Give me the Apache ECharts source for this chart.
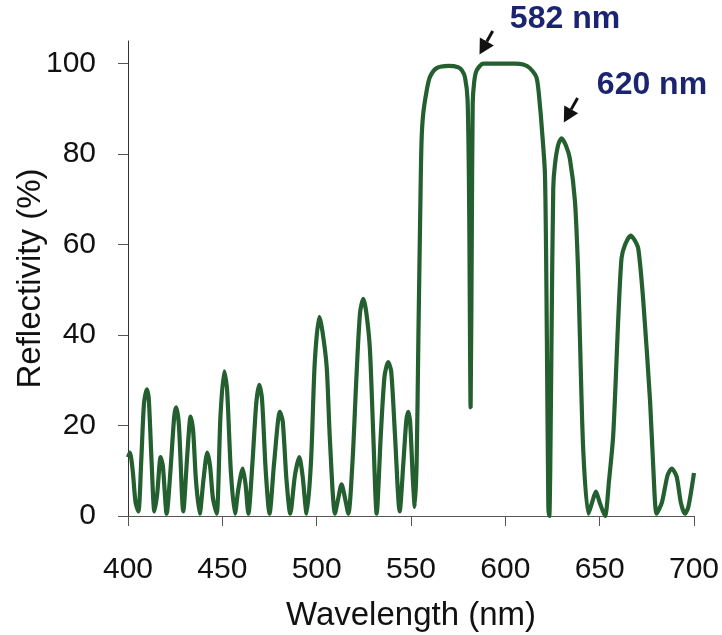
<!DOCTYPE html>
<html>
<head>
<meta charset="utf-8">
<script src="https://cdn.jsdelivr.net/npm/echarts@6/dist/echarts.min.js"></script>
<style>html,body{margin:0;padding:0;background:#fff}#c{width:722px;height:635px}</style>
</head>
<body>
<div id="c"></div>
<script>
// Wavelength (nm)
const wavelength = [400,401,402.5,404,405.5,407,408.5,410,411,412.5,414,415.5,417.3,418.5,420.5,422.5,424.5,425.5,427,429.3,431.5,433.2,434.5,436,438,440,442,443.5,445,447,449,451,452.5,454.5,456.7,458.5,460.8,462.3,463.8,466,468,469.6,471,473,475,477.5,480.5,482,484,486,488.5,490.8,492.5,494.7,497,499,501.4,503,505.3,507,509.7,511.5,513.2,515,516.8,519,521,523,524.7,526.3,528.2,530,531.8,534,536,537.9,539.5,541.5,544,546,547.5,548.5,549.5,551,552,553,553.9,555,555.6,556.5,558.3,560,563.6,570,575,577,578.6,580,580.8,581.6,582.2,582.7,583.5,584.8,588.3,595,605,609.5,613,616.6,618.5,619.2,621,622,622.8,623.3,623.8,624.5,625.4,626.3,628,629.8,632,634.2,636.9,638.5,639.5,641.3,644,646,648,650,652.8,655,657.2,659.9,661.6,663.5,666.4,668.5,670.5,673.1,676.7,678.5,680.2,683,686,688.2,690.8,693,695.2,697,700];
// Reflectivity (%)
const reflectivity = [13,14,10,3,1,12,25,28,26,12,1,5,13,11,0.5,10,22,24,20,1,14,22,19,8,0.5,8,14,11,4,0.5,22,32,28,10,0.5,6,10.5,7,0.5,12,25,29,26,10,0.5,12,23,21,8,0.5,9,13,9,0.5,12,34,44,41,33,17,0.5,4,7,4,0.5,12,30,45,48,45,37,18,0.5,18,31,34,32,18,1,12,21,23,21,8,2,12,39,70,83,89,94,97,99,99.5,99.2,98.5,97,92,70,24,60,91,96,98.5,100,100,100,99.8,99,96.8,90,86.5,75.5,40,2,0,10,40,72.5,77.7,82,83.5,82,79,69.6,55,40,14.5,0.5,3,5.4,3,0,8,18,44,57,60,62,61,59,47.6,25.5,10,0.5,3,9,10.5,8.7,3,0.5,2,9.5];
const yTicks = [0,20,40,60,80,100];
const xTicks = [400,450,500,550,600,650,700];
// Annotations: label, text anchor (data), arrow start (data), arrow end (data)
const annoLabels = ['582 nm','620 nm'];
const annoTextPos = [[602.4,109.3],[648.5,94.9]];
const annoArrowFrom = [[593.3,107.2],[638.3,92.4]];
const annoArrowTo = [[586.3,102.0],[631.0,87.0]];

const font = '"Liberation Sans", Arial, sans-serif';
const chart = echarts.init(document.getElementById('c'), null, {renderer:'canvas'});
const data = wavelength.map((x,i)=>[x, reflectivity[i]]);
chart.setOption({
  animation:false,
  backgroundColor:'#fff',
  grid:{left:128, right:28, top:41, bottom:119, containLabel:false, outerBoundsMode:'none'},
  xAxis:{
    type:'value', min:400, max:700, interval:50,
    name:'Wavelength (nm)', nameLocation:'middle', nameGap:83, nameMoveOverlap:false,
    nameTextStyle:{fontFamily:font, fontSize:33, color:'#111'},
    axisLine:{show:true, onZero:false, lineStyle:{color:'#555', width:1}},
    axisTick:{show:true, length:10, inside:false, lineStyle:{color:'#555'}},
    axisLabel:{fontFamily:font, fontSize:30, color:'#111', margin:39},
    splitLine:{show:false}
  },
  yAxis:{
    type:'value', min:0, max:105, interval:20,
    name:'Reflectivity (%)', nameLocation:'middle', nameGap:81, nameMoveOverlap:false,
    nameTextStyle:{fontFamily:font, fontSize:33, color:'#111'},
    axisLine:{show:true, lineStyle:{color:'#333', width:1}},
    axisTick:{show:true, length:10, customValues:yTicks, lineStyle:{color:'#555'}},
    axisLabel:{fontFamily:font, fontSize:30, color:'#111', margin:32, customValues:yTicks},
    splitLine:{show:false}
  },
  series:[{
    type:'line', data:data, showSymbol:false, smooth:0.25,
    lineStyle:{color:'#24602f', width:4.2}, clip:false
  }]
});

function drawAnno(){
  const els = [];
  for(let i=0;i<annoLabels.length;i++){
    const tp = chart.convertToPixel({gridIndex:0}, annoTextPos[i]);
    const a = chart.convertToPixel({gridIndex:0}, annoArrowFrom[i]);
    const b = chart.convertToPixel({gridIndex:0}, annoArrowTo[i]);
    els.push({type:'text', left:tp[0], top:tp[1]-18, style:{text:annoLabels[i], fontFamily:font, fontWeight:'bold', fontSize:32, fill:'#1b2470'}});
    const dx=b[0]-a[0], dy=b[1]-a[1], L=Math.hypot(dx,dy), ux=dx/L, uy=dy/L;
    const hl=15, hw=8;
    const bx=b[0]-ux*hl, by=b[1]-uy*hl;
    els.push({type:'line', shape:{x1:a[0],y1:a[1],x2:bx,y2:by}, style:{stroke:'#111', lineWidth:3}});
    els.push({type:'polygon', shape:{points:[[b[0],b[1]],[bx-uy*hw,by+ux*hw],[bx+uy*hw,by-ux*hw]]}, style:{fill:'#111'}});
  }
  chart.setOption({graphic:els});
}
drawAnno();
</script>
</body>
</html>
